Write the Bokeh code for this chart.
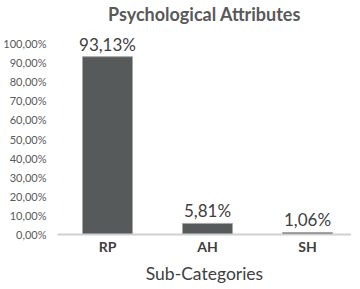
from bokeh.plotting import figure
from bokeh.models import Range1d, FixedTicker, ColumnDataSource
from bokeh.core.properties import value
from bokeh.embed import file_html
from bokeh.resources import INLINE

categories = ["RP", "AH", "SH"]
values = [0.9313, 0.0581, 0.0106]
value_labels = ["93,13%", "5,81%", "1,06%"]
y_ticks = [0.0, 0.1, 0.2, 0.3, 0.4, 0.5, 0.6, 0.7, 0.8, 0.9, 1.0]
y_tick_labels = ["0,00%", "10,00%", "20,00%", "30,00%", "40,00%", "50,00%",
                 "60,00%", "70,00%", "80,00%", "90,00%", "100,00%"]
x_title = "Sub-Categories"

FONT = "Lato"
idx = list(range(len(categories)))
src = ColumnDataSource(dict(x=idx, top=values, label=value_labels))

p = figure(frame_width=294, frame_height=210, output_backend="svg",
           toolbar_location=None,
           x_range=Range1d(-0.5, 2.44), y_range=Range1d(0, 1.10),
           min_border_left=0, min_border_right=0, min_border_top=0,
           min_border_bottom=0, background_fill_color="white",
           border_fill_color="white", outline_line_color=None)

p.title.text = "Psychological Attributes"
p.title.align = "center"
p.title.text_font = FONT
p.title.text_font_size = "18px"
p.title.text_font_style = "bold"
p.title.text_color = "#595959"
p.title.offset = 0
p.title.standoff = 0

p.vbar(x="x", top="top", width=0.5, source=src, fill_color="#575a5a",
       line_color="#a6a6a6", line_width=1)
p.text(x="x", y="top", text="label", source=src, text_align="center",
       text_baseline="bottom", y_offset=-2, text_font=value(FONT),
       text_font_size="17px", text_color="#404040")

p.xgrid.visible = False
p.ygrid.visible = False

p.xaxis.ticker = FixedTicker(ticks=idx)
p.xaxis.major_label_overrides = {i: c for i, c in zip(idx, categories)}
p.xaxis.axis_line_color = "#d0d0d0"
p.xaxis.axis_line_width = 2
p.xaxis.major_tick_line_color = None
p.xaxis.minor_tick_line_color = None
p.xaxis.major_tick_out = 0
p.xaxis.major_label_text_font = FONT
p.xaxis.major_label_text_font_size = "14px"
p.xaxis.major_label_text_font_style = "bold"
p.xaxis.major_label_text_color = "#404040"
p.xaxis.major_label_standoff = 3
p.xaxis.axis_label = x_title
p.xaxis.axis_label_text_font = FONT
p.xaxis.axis_label_text_font_size = "17.5px"
p.xaxis.axis_label_text_font_style = "normal"
p.xaxis.axis_label_text_color = "#404040"
p.xaxis.axis_label_standoff = 5

p.yaxis.ticker = FixedTicker(ticks=y_ticks)
p.yaxis.major_label_overrides = {t: l for t, l in zip(y_ticks, y_tick_labels)}
p.yaxis.axis_line_color = None
p.yaxis.major_tick_line_color = None
p.yaxis.minor_tick_line_color = None
p.yaxis.major_label_text_font = FONT
p.yaxis.major_label_text_font_size = "11px"
p.yaxis.major_label_text_color = "#595959"
p.yaxis.major_label_standoff = 5

open("out.html", "w").write(file_html(p, INLINE))
